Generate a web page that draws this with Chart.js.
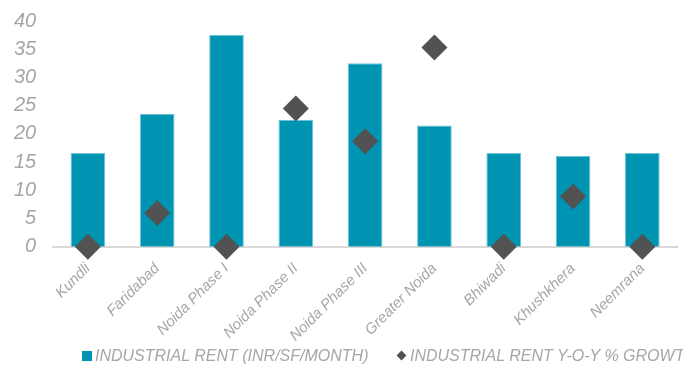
<!DOCTYPE html>
<html>
<head>
<meta charset="utf-8">
<script src="https://cdn.jsdelivr.net/npm/chart.js@4"></script>
<style>
  html, body { margin: 0; padding: 0; background: #fff; overflow: hidden; }
  #wrap { position: relative; width: 683px; height: 366px; }
  #legend {
    position: absolute; left: 0; top: 346px; width: 683px; height: 20px;
    white-space: nowrap; overflow: hidden;
    font: italic 16px "Liberation Sans", Arial, sans-serif; color: #a6a6a6;
  }
  #legend span { position: absolute; top: 1px; }
  .box { position: absolute; top: 5px; width: 10px; height: 10px; background: #0094b3; }
  .dia { position: absolute; top: 6px; width: 7px; height: 7px; background: #505352; transform: rotate(45deg); }
</style>
</head>
<body>
<div id="wrap">
  <canvas id="chart" width="683" height="366"></canvas>
  <div id="legend">
    <div class="box" style="left:82px"></div><span style="left:95px">INDUSTRIAL RENT (INR/SF/MONTH)</span>
    <div class="dia" style="left:398px"></div><span style="left:410px">INDUSTRIAL RENT Y-O-Y % GROWTH</span>
  </div>
</div>
<script>
const locations = ['Kundli', 'Faridabad', 'Noida Phase I', 'Noida Phase II', 'Noida Phase III',
  'Greater Noida', 'Bhiwadi', 'Khushkhera', 'Neemrana'];
const rentValues = [16.6, 23.5, 37.5, 22.5, 32.5, 21.5, 16.6, 16.1, 16.6];
const growthValues = [0, 6, 0, 24.5, 18.7, 35.3, 0, 8.9, 0];
const yTicks = [0, 5, 10, 15, 20, 25, 30, 35, 40];

const tickFont = { family: '"Liberation Sans", Arial, sans-serif', style: 'italic' };

const ctx = document.getElementById('chart').getContext('2d');
new Chart(ctx, {
  type: 'bar',
  data: {
    labels: locations,
    datasets: [{
      type: 'line',
      label: 'INDUSTRIAL RENT Y-O-Y % GROWTH',
      data: growthValues,
      showLine: false,
      pointStyle: 'rectRot',
      pointRadius: 13,
      pointHoverRadius: 13,
      pointBackgroundColor: '#505352',
      pointBorderWidth: 0,
      clip: false,
      order: 0
    }, {
      label: 'INDUSTRIAL RENT (INR/SF/MONTH)',
      data: rentValues,
      backgroundColor: '#0094b3',
      borderColor: '#6cc3d6',
      borderWidth: 1,
      barPercentage: 0.5,
      categoryPercentage: 1,
      order: 1
    }]
  },
  options: {
    responsive: false,
    animation: false,
    layout: { autoPadding: false, padding: { left: 5, right: 6, top: 21, bottom: 16 } },
    plugins: {
      legend: { display: false },
      tooltip: { enabled: false }
    },
    scales: {
      x: {
        grid: { display: false },
        border: { color: '#d9d9d9', width: 2 },
        ticks: {
          color: '#a6a6a6',
          font: { ...tickFont, size: 15 },
          minRotation: 45,
          maxRotation: 45,
          padding: 5
        }
      },
      y: {
        min: 0,
        max: 40,
        afterBuildTicks: axis => { axis.ticks = yTicks.map(v => ({ value: v })); },
        grid: { display: false },
        border: { display: false },
        ticks: {
          color: '#a6a6a6',
          font: { ...tickFont, size: 20 },
          padding: 9
        }
      }
    }
  }
});
</script>
</body>
</html>
